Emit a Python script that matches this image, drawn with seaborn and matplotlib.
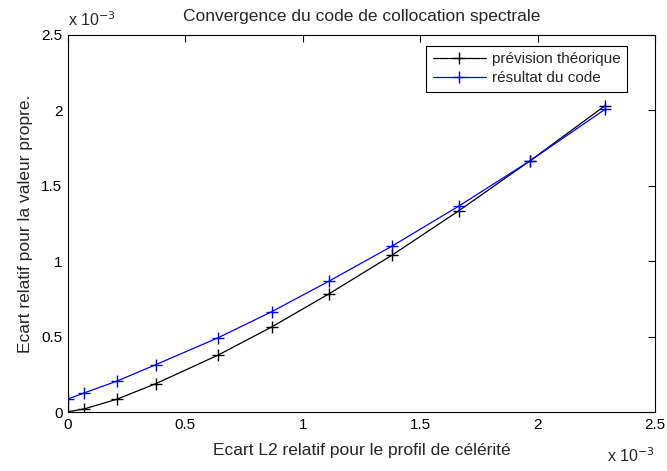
import matplotlib
matplotlib.use("Agg")
import matplotlib.pyplot as plt
import seaborn as sns
import pandas as pd
from matplotlib.ticker import FuncFormatter, MultipleLocator

# Relative L2 error on the sound-speed profile (x) and relative eigenvalue error (y)
ecart_l2 = [0.0, 0.068e-3, 0.207e-3, 0.374e-3, 0.640e-3, 0.8675e-3,
            1.113e-3, 1.381e-3, 1.665e-3, 1.968e-3, 2.287e-3]
prevision = [0.002e-3, 0.020e-3, 0.084e-3, 0.188e-3, 0.378e-3, 0.564e-3,
             0.785e-3, 1.041e-3, 1.335e-3, 1.666e-3, 2.031e-3]
resultat = [0.086e-3, 0.126e-3, 0.204e-3, 0.314e-3, 0.493e-3, 0.665e-3,
            0.869e-3, 1.101e-3, 1.366e-3, 1.666e-3, 2.007e-3]

labels = ["prévision théorique", "résultat du code"]
colors = ["black", "#0000ff"]

sns.set_style("white")
plt.rcParams["font.family"] = ["Liberation Sans", "DejaVu Sans"]
plt.rcParams["font.size"] = 12

df = pd.DataFrame({
    "x": ecart_l2 * 2,
    "y": prevision + resultat,
    "serie": [labels[0]] * len(ecart_l2) + [labels[1]] * len(ecart_l2),
})

fig = plt.figure(figsize=(6.67, 4.71), dpi=100)
ax = fig.add_axes([68 / 667, 1 - 412 / 471, (655 - 68) / 667, (412 - 35) / 471])

for lab, col in zip(labels, colors):
    sub = df[df["serie"] == lab]
    sns.lineplot(data=sub, x="x", y="y", ax=ax, sort=False, color=col,
                 marker="+", markersize=9, markeredgewidth=1.0,
                 markeredgecolor=col, linewidth=0.9, label=lab)

ax.set_xlim(0, 2.5e-3)
ax.set_ylim(0, 2.5e-3)
ax.xaxis.set_major_locator(MultipleLocator(0.5e-3))
ax.yaxis.set_major_locator(MultipleLocator(0.5e-3))
fmt = FuncFormatter(lambda v, p: "%g" % round(v * 1e3, 6))
ax.xaxis.set_major_formatter(fmt)
ax.yaxis.set_major_formatter(fmt)

ax.tick_params(direction="in", length=5, width=0.8, top=True, right=True,
               labelsize=11, pad=4, colors="black")
for s in ax.spines.values():
    s.set_visible(True)
    s.set_color("black")
    s.set_linewidth(0.8)

ax.set_title("Convergence du code de collocation spectrale", fontsize=12.5, pad=10)
ax.set_xlabel("Ecart L2 relatif pour le profil de célérité", fontsize=12.5, labelpad=8)
ax.set_ylabel("Ecart relatif pour la valeur propre.", fontsize=12.5, labelpad=6)

ax.text(0.0, 1.015, r"x 10$^{-3}$", transform=ax.transAxes, fontsize=11.5,
        ha="left", va="bottom")
ax.text(1.0, -0.09, r"x 10$^{-3}$", transform=ax.transAxes, fontsize=11.5,
        ha="right", va="top")

leg = ax.legend(loc="upper right", frameon=True, fancybox=False, fontsize=11,
                borderpad=0.4, labelspacing=0.35, handlelength=3.5,
                borderaxespad=0.0, bbox_to_anchor=(1 - 28 / 587, 1 - 11 / 377),
                handletextpad=0.4)
leg.get_frame().set_edgecolor("black")
leg.get_frame().set_linewidth(0.8)
leg.get_frame().set_alpha(1)

fig.savefig("out.png", dpi=100)
